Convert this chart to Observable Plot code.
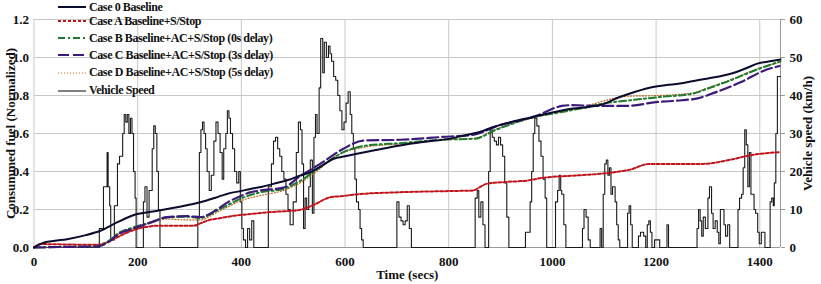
<!DOCTYPE html>
<html><head><meta charset="utf-8">
<script src="https://cdn.jsdelivr.net/npm/d3@7"></script>
<script src="https://cdn.jsdelivr.net/npm/@observablehq/plot@0.6"></script>
<style>
body{margin:0;background:#fff;}
#wrap{position:relative;width:821px;height:284px;overflow:hidden;font-family:"Liberation Serif",serif;}
#wrap svg{position:absolute;left:0;top:0;background:transparent;}
.lrow{position:absolute;left:58px;height:14px;display:flex;align-items:center;font-weight:bold;font-size:12px;letter-spacing:-0.4px;color:#111;white-space:nowrap;}
.lrow svg{position:static !important;margin-right:2px;}
</style></head><body><div id="wrap"></div>
<script>
// ---- Data ----
const case0Time = [0,10,20,40,64,100,128,160,199,230,257,290,321,350,372,400,417,440,462,490,513,533,555,578,600,623,660,706,750,803,830,860,886,920,963,1000,1040,1070,1092,1130,1160,1194,1220,1246,1270,1300,1330,1352,1375,1397,1420,1440];
const case0Fuel = [0,0.015,0.026,0.035,0.044,0.065,0.088,0.132,0.176,0.19,0.203,0.22,0.238,0.262,0.282,0.298,0.308,0.32,0.335,0.355,0.378,0.396,0.43,0.467,0.48,0.493,0.513,0.537,0.555,0.573,0.59,0.608,0.634,0.66,0.687,0.71,0.731,0.74,0.75,0.792,0.82,0.845,0.855,0.863,0.875,0.89,0.905,0.921,0.945,0.969,0.98,0.99];

const caseATime = [0,12,60,122,147,165,180,212,244,308,322,334,360,385,420,449,513,540,571,600,616,706,800,847,860,873,910,950,982,1040,1092,1110,1150,1187,1240,1290,1340,1387,1438];
const caseAFuel = [0,0.018,0.016,0.014,0.035,0.06,0.079,0.106,0.115,0.115,0.128,0.141,0.155,0.167,0.177,0.185,0.198,0.225,0.264,0.272,0.278,0.291,0.297,0.3,0.318,0.335,0.345,0.352,0.367,0.378,0.388,0.393,0.41,0.44,0.44,0.44,0.46,0.488,0.502];

const caseBTime = [0,60,120,128,147,160,192,224,257,295,321,340,353,375,398,436,481,513,552,597,642,706,783,851,889,966,1018,1060,1097,1150,1207,1271,1300,1336,1400,1440];
const caseBFuel = [0,0.003,0.005,0.009,0.04,0.07,0.106,0.132,0.158,0.162,0.155,0.175,0.194,0.225,0.256,0.29,0.308,0.35,0.423,0.502,0.537,0.549,0.567,0.573,0.617,0.687,0.713,0.735,0.757,0.775,0.792,0.81,0.837,0.872,0.942,0.98];

const caseCTime = [0,60,120,128,147,160,192,224,257,295,321,340,353,375,398,417,436,481,513,552,597,635,706,783,851,889,966,1018,1034,1092,1143,1200,1250,1280,1313,1365,1410,1438];
const caseCFuel = [0,0.003,0.005,0.009,0.035,0.065,0.1,0.13,0.16,0.165,0.16,0.178,0.2,0.24,0.27,0.29,0.3,0.315,0.375,0.44,0.52,0.563,0.567,0.581,0.595,0.635,0.69,0.745,0.749,0.745,0.745,0.765,0.775,0.785,0.815,0.872,0.933,0.955];

const caseDTime = [0,60,120,128,147,160,192,224,257,295,321,340,353,375,398,436,481,513,552,578,642,706,783,851,889,966,1018,1060,1097,1143,1207,1271,1300,1336,1400,1440];
const caseDFuel = [0,0.003,0.005,0.009,0.035,0.065,0.1,0.128,0.15,0.145,0.145,0.165,0.185,0.215,0.245,0.273,0.3,0.34,0.415,0.475,0.53,0.545,0.565,0.575,0.62,0.685,0.715,0.74,0.77,0.796,0.8,0.814,0.84,0.875,0.945,0.975];

const speedTime = [0,126,134,141,143,146,148,155,161,165,171,174,177,180,183,186,189,192,195,197,211,214,218,222,228,231,234,237,240,243,316,319,322,325,328,331,334,338,342,347,351,355,359,363,366,370,373,376,379,383,387,391,395,398,401,404,408,412,416,420,424,452,458,462,466,470,474,478,482,486,490,494,500,506,510,514,517,520,523,526,530,533,537,540,543,546,550,553,557,560,564,568,571,574,578,582,586,590,594,598,602,606,610,613,616,619,622,626,629,632,635,700,704,708,712,716,720,724,728,851,855,858,862,866,870,877,880,884,888,892,896,900,904,908,912,916,948,952,957,960,963,966,970,974,978,982,986,989,1006,1010,1013,1016,1018,1022,1026,1058,1061,1065,1069,1073,1092,1095,1098,1101,1104,1107,1110,1113,1116,1121,1124,1127,1130,1145,1148,1151,1154,1166,1170,1176,1180,1183,1186,1189,1192,1197,1203,1207,1221,1224,1279,1282,1285,1288,1291,1295,1300,1303,1307,1310,1314,1318,1321,1324,1328,1331,1334,1338,1342,1358,1361,1365,1368,1371,1374,1377,1380,1383,1386,1389,1392,1396,1399,1403,1407,1410,1420,1423,1426,1428,1431,1434,1440];
const speedKmh  = [0,5,16,25,16,11,2,11,22,24,30,35,33,35,30,34,30,20,13,0,12,16,8,15,26,32,30,20,10,0,8,25,31,33,30,26,20,15,19,28,33,30,25,18,26,30,36,34,30,26,20,17,20,12,5,2,0,5,2,7,0,16,22,28,29,26,24,20,18,14,10,6,12,25,33,31,22,5,13,10,16,23,9,29,35,30,42,55,46,54,50,53,51,49,45,44,40,36,31,33,38,41,35,30,26,18,12,10,5,2,0,12,8,7,6,7,11,5,0,13,15,8,12,6,0,20,31,29,28,27,29,27,24,17,8,0,4,4,12,20,30,34,32,28,24,18,13,0,12,15,19,15,14,6,0,5,10,8,2,0,5,0,14,22,23,19,21,14,16,12,6,2,0,9,11,6,0,3,4,3,0,6,7,4,0,2,2,0,6,0,5,10,7,3,8,5,13,16,9,5,7,4,1,10,10,6,3,6,0,10,13,14,21,31,27,16,25,14,14,10,9,4,1,4,4,0,12,13,11,17,30,45,45];

const seriesNames = ["Case 0 Baseline","Case A Baseline+S/Stop","Case B Baseline+AC+S/Stop (0s delay)","Case C Baseline+AC+S/Stop (3s delay)","Case D Baseline+AC+S/Stop (5s delay)","Vehicle Speed"];
const xTicks = [0,200,400,600,800,1000,1200,1400];
const fuelTicks = [0,0.2,0.4,0.6,0.8,1.0,1.2];
const speedTicks = [0,10,20,30,40,50,60];

// ---- styles ----
const styles = [
  {color:"#0b0b2e", width:2.0, dash:null},
  {color:"#c0141c", width:2.0, dash:"3,2"},
  {color:"#1e7a2e", width:2.0, dash:"7,3,2,3"},
  {color:"#3c1a7a", width:2.2, dash:"11,4"},
  {color:"#b8621c", width:1.2, dash:"1,2"},
  {color:"#1a1a1a", width:1.1, dash:null}
];

const W = 821, H = 284;
const M = {top:19, right:41, bottom:37, left:33.5};
const font = {fontFamily:"Liberation Serif, serif", fontSize:"13px", fontWeight:"bold", color:"#111", background:"transparent", overflow:"visible"};

const speedData = speedTime.map((t,i)=>({t, s:speedKmh[i]}));
const mk = (T,F)=>T.map((t,i)=>({t, f:F[i]}));
const fuelSets = [mk(case0Time,case0Fuel), mk(caseATime,caseAFuel), mk(caseBTime,caseBFuel), mk(caseCTime,caseCFuel), mk(caseDTime,caseDFuel)];

const plotA = Plot.plot({
  width:W, height:H, marginTop:M.top, marginRight:M.right, marginBottom:M.bottom, marginLeft:M.left,
  style:font,
  x:{domain:[0,1440]},
  y:{domain:[0,60]},
  marks:[
    Plot.gridX(xTicks, {stroke:"#c8c8c8", strokeOpacity:1, strokeWidth:1}),
    Plot.gridY(speedTicks, {stroke:"#c8c8c8", strokeOpacity:1, strokeWidth:1}),
    Plot.ruleX([1440], {stroke:"#999"}),
    Plot.ruleY([0], {stroke:"#999"}),
    Plot.axisY(speedTicks, {anchor:"right", tickSize:4, tickPadding:5, stroke:"#999", label:"Vehicle speed (km/h)", labelAnchor:"center", labelArrow:"none", labelOffset:31, textAnchor:"start"}),
    Plot.axisX({ticks:[], label:null}),
    Plot.line(speedData, {x:"t", y:"s", curve:"step-after", stroke:styles[5].color, strokeWidth:styles[5].width})
  ]
});

const fuelMarks = fuelSets.map((d,i)=>Plot.line(d, {x:"t", y:"f", curve:"monotone-x", stroke:styles[i].color, strokeWidth:styles[i].width, strokeDasharray:styles[i].dash}));
const order = [1,4,2,3,0];
const plotB = Plot.plot({
  width:W, height:H, marginTop:M.top, marginRight:M.right, marginBottom:M.bottom, marginLeft:M.left,
  style:font,
  x:{domain:[0,1440]},
  y:{domain:[0,1.2]},
  marks:[
    Plot.axisY(fuelTicks, {anchor:"left", tickSize:0, tickPadding:5, tickFormat:d3.format(".1f"), label:"Consummed fuel (Normalized)", labelAnchor:"center", labelArrow:"none", labelOffset:28}),
    Plot.axisX(xTicks, {anchor:"bottom", tickSize:0, tickPadding:9, tickFormat:d=>String(d), label:"Time (secs)", labelAnchor:"center", labelArrow:"none", labelOffset:31}),
    ...order.map(i=>fuelMarks[i])
  ]
});

const wrap = document.getElementById("wrap");
wrap.appendChild(plotA);
wrap.appendChild(plotB);

// legend (row centres)
const rowCenters = [7, 21, 38, 55, 72.5, 90.5];
seriesNames.forEach((name,i)=>{
  const row = document.createElement("div");
  row.className = "lrow";
  row.style.top = (rowCenters[i] - 7) + "px";
  const s = styles[i];
  const sw = d3.create("svg").attr("width",29).attr("height",14);
  sw.append("line").attr("x1",0).attr("x2",28).attr("y1",7).attr("y2",7)
    .attr("stroke",s.color).attr("stroke-width",s.width).attr("stroke-dasharray",s.dash);
  row.appendChild(sw.node());
  const sp = document.createElement("span");
  sp.textContent = name;
  row.appendChild(sp);
  wrap.appendChild(row);
});
</script></body></html>
